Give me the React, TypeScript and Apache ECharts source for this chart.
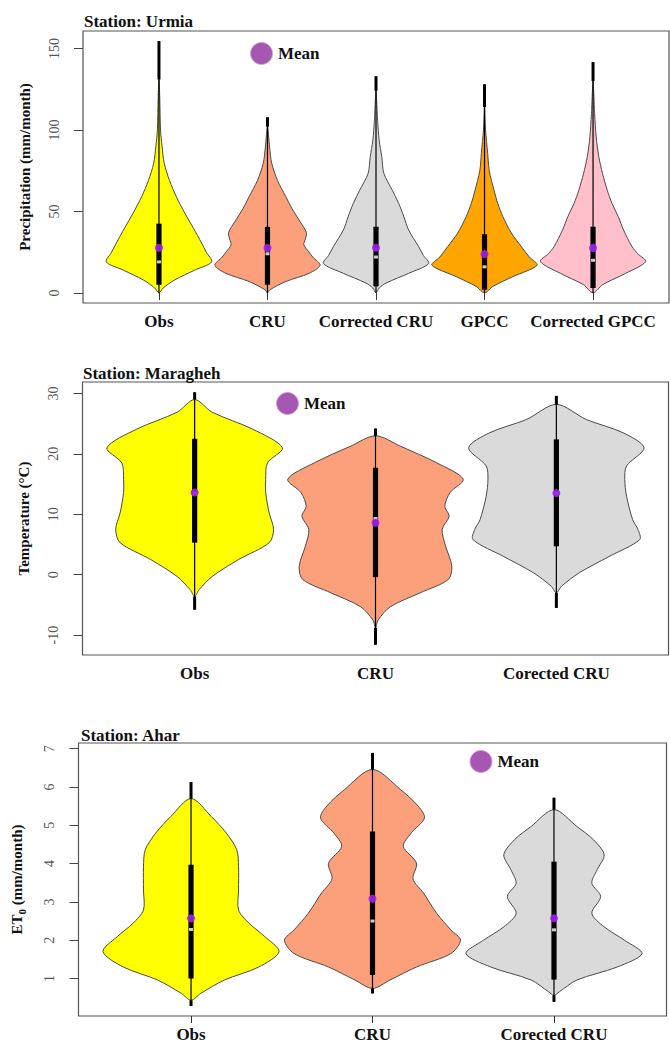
import React, { useEffect, useRef } from 'react';
import * as echarts from 'echarts';

const FONT = "'Liberation Serif', 'Times New Roman', Times, serif";

// ---------------- Panel 1: Station Urmia (precipitation) ----------------
const urmiaTitle = 'Station: Urmia';
const urmiaYName = 'Precipitation (mm/month)';
const urmiaCategories = ['Obs', 'CRU', 'Corrected CRU', 'GPCC', 'Corrected GPCC'];
const urmiaYTicks = [0, 50, 100, 150];
// density profiles: [value, relative half width]
const urmiaObsDensity = [[0, 0], [3, 0.08], [8, 0.3], [14, 0.68], [19, 1], [25, 0.9], [30.6, 0.81], [40, 0.65], [49, 0.49], [59, 0.33], [69, 0.2], [79.6, 0.1], [89.6, 0.06], [100, 0.03], [120, 0.015], [131, 0]];
const urmiaCruDensity = [[0, 0], [2, 0.05], [7, 0.35], [12, 0.79], [17, 1], [22, 0.86], [25, 0.79], [29.5, 0.69], [33, 0.72], [37, 0.74], [44.7, 0.6], [52, 0.46], [59, 0.35], [69, 0.19], [79.6, 0.08], [89.6, 0.04], [102, 0]];
const urmiaCorrCruDensity = [[0, 0], [3, 0.06], [6, 0.19], [12, 0.62], [18, 1], [23, 0.9], [28.4, 0.81], [38.6, 0.62], [46.7, 0.53], [55, 0.43], [63, 0.31], [73.3, 0.15], [83.5, 0.11], [93.7, 0.06], [106, 0.03], [124, 0]];
const urmiaGpccDensity = [[0, 0], [4, 0.16], [10, 0.54], [17, 1], [22, 0.85], [28.4, 0.7], [36.7, 0.51], [46.7, 0.35], [55, 0.25], [63, 0.18], [75, 0.09], [85.7, 0.06], [100, 0.02], [114, 0]];
const urmiaCorrGpccDensity = [[0, 0], [5, 0.18], [12, 0.62], [19.2, 1], [24, 0.85], [28.4, 0.74], [38.6, 0.58], [46.7, 0.48], [55, 0.36], [63, 0.27], [73.3, 0.18], [83.5, 0.11], [95.7, 0.06], [110, 0.03], [130, 0]];
const urmiaWhiskerLow = [0, 0, 0, 0, 0];
const urmiaWhiskerHigh = [154.5, 107.8, 132.9, 128, 141.6];
const urmiaQ1 = [5, 5, 4, 2, 3];
const urmiaQ3 = [42.5, 40.5, 40.6, 36, 40.6];
const urmiaMedian = [19, 24, 22, 16, 20];
const urmiaMean = [27.7, 27.5, 27.7, 23.8, 27.6];

// ---------------- Panel 2: Station Maragheh (temperature) ----------------
const maraTitle = 'Station: Maragheh';
const maraYName = 'Temperature (°C)';
const maraCategories = ['Obs', 'CRU', 'Corected CRU'];
const maraYTicks = [-10, 0, 10, 20, 30];
const maraObsDensity = [[-3.6, 0], [-2.5, 0.05], [-0.3, 0.2], [2.5, 0.5], [5.3, 0.85], [7.5, 0.9], [10.2, 0.85], [13.6, 0.81], [15.8, 0.81], [18.5, 0.83], [21, 1], [24.1, 0.66], [26.9, 0.2], [29, 0]];
const maraCruDensity = [[-8.8, 0], [-7.5, 0.03], [-5.3, 0.17], [-3, 0.51], [-0.8, 0.83], [1.4, 0.87], [4.7, 0.8], [7.5, 0.76], [9.7, 0.84], [11.3, 0.79], [13.6, 0.85], [15.8, 1], [18.5, 0.7], [21.3, 0.28], [23, 0]];
const maraCorrCruDensity = [[-3, 0], [-1.9, 0.06], [0.3, 0.26], [3, 0.6], [5.8, 0.95], [7.5, 0.93], [9.1, 0.87], [13, 0.8], [15.8, 0.78], [18, 0.8], [21, 1], [23.5, 0.76], [25.7, 0.34], [28.2, 0]];
const maraWhiskerLow = [-5.8, -11.6, -5.5];
const maraWhiskerHigh = [30.2, 24.2, 29.6];
const maraQ1 = [5.3, -0.4, 4.7];
const maraQ3 = [22.5, 17.7, 22.4];
const maraMedian = [13.5, 9.3, 13.5];
const maraMean = [13.6, 8.6, 13.5];

// ---------------- Panel 3: Station Ahar (ET0) ----------------
const aharTitle = 'Station: Ahar';
const aharCategories = ['Obs', 'CRU', 'Corected CRU'];
const aharYTicks = [1, 2, 3, 4, 5, 6, 7];
const aharObsDensity = [[0.43, 0], [0.61, 0.11], [0.96, 0.38], [1.3, 0.77], [1.7, 1], [2.09, 0.84], [2.44, 0.66], [2.79, 0.54], [3.31, 0.54], [3.92, 0.54], [4.36, 0.52], [4.8, 0.4], [5.23, 0.23], [5.7, 0]];
const aharCruDensity = [[0.74, 0], [0.96, 0.2], [1.3, 0.5], [1.65, 0.89], [2, 1], [2.27, 0.89], [2.7, 0.73], [3.23, 0.58], [3.6, 0.46], [4.01, 0.5], [4.45, 0.35], [4.8, 0.44], [5.19, 0.59], [5.5, 0.52], [5.93, 0.32], [6.46, 0]];
const aharCorrCruDensity = [[0.56, 0], [0.65, 0.06], [0.96, 0.26], [1.3, 0.72], [1.65, 1], [2, 0.8], [2.35, 0.57], [2.7, 0.43], [3.14, 0.53], [3.49, 0.43], [3.84, 0.49], [4.23, 0.57], [4.62, 0.45], [4.97, 0.26], [5.41, 0]];
const aharWhiskerLow = [0.28, 0.61, 0.39];
const aharWhiskerHigh = [6.13, 6.89, 5.72];
const aharQ1 = [1.0, 1.09, 0.97];
const aharQ3 = [3.97, 4.84, 4.05];
const aharMedian = [2.28, 2.5, 2.27];
const aharMean = [2.57, 3.08, 2.57];

// ---------------- styling ----------------
const HALF = 0.485;
const colors5 = ['#FFFF00', '#FCA07B', '#DADADA', '#FFA500', '#FFC0CB'];
const colors3 = ['#FFFF00', '#FCA07B', '#DADADA'];

const panels = [
  {
    title: urmiaTitle, yName: urmiaYName, cats: urmiaCategories, ticks: urmiaYTicks,
    dens: [urmiaObsDensity, urmiaCruDensity, urmiaCorrCruDensity, urmiaGpccDensity, urmiaCorrGpccDensity],
    wLo: urmiaWhiskerLow, wHi: urmiaWhiskerHigh, q1: urmiaQ1, q3: urmiaQ3, med: urmiaMedian, mean: urmiaMean,
    colors: colors5,
    grid: { left: 83, top: 31, width: 586, height: 272 }, xMin: 0.3, xMax: 5.7, yMin: -6.2, yMax: 160.7,
    titlePos: { left: 84, top: 13 }, legendPos: { left: 250, top: 42 },
  },
  {
    title: maraTitle, yName: maraYName, cats: maraCategories, ticks: maraYTicks,
    dens: [maraObsDensity, maraCruDensity, maraCorrCruDensity],
    wLo: maraWhiskerLow, wHi: maraWhiskerHigh, q1: maraQ1, q3: maraQ3, med: maraMedian, mean: maraMean,
    colors: colors3,
    grid: { left: 82.5, top: 382, width: 586, height: 273 }, xMin: 0.38, xMax: 3.62, yMin: -13.3, yMax: 31.9,
    titlePos: { left: 83, top: 365 }, legendPos: { left: 276, top: 392 },
  },
  {
    title: aharTitle, yName: '{n|ET}{s|0}{n| (mm/month)}', cats: aharCategories, ticks: aharYTicks,
    dens: [aharObsDensity, aharCruDensity, aharCorrCruDensity],
    wLo: aharWhiskerLow, wHi: aharWhiskerHigh, q1: aharQ1, q3: aharQ3, med: aharMedian, mean: aharMean,
    colors: colors3,
    grid: { left: 78.5, top: 743, width: 588, height: 273 }, xMin: 0.38, xMax: 3.62, yMin: 0.02, yMax: 7.15,
    titlePos: { left: 81, top: 727 }, legendPos: { left: 469.5, top: 750 },
  },
];

function buildOption() {
  const grid: any[] = [];
  const xAxis: any[] = [];
  const yAxis: any[] = [];
  const series: any[] = [];
  const title: any[] = [];
  const legend: any[] = [];

  panels.forEach((p, gi) => {
    grid.push({ ...p.grid, show: true, borderColor: '#555', borderWidth: 1.2, backgroundColor: 'transparent' });
    const idx = p.cats.map((_, i) => i + 1);
    xAxis.push({
      type: 'value', gridIndex: gi, min: p.xMin, max: p.xMax,
      axisLine: { show: false }, splitLine: { show: false },
      axisTick: { show: true, customValues: idx, length: 7, lineStyle: { color: '#333', width: 1 } },
      axisLabel: {
        customValues: idx, margin: 10,
        formatter: (v: number) => p.cats[Math.round(v) - 1] || '',
        fontFamily: FONT, fontWeight: 'bold', fontSize: 17, color: '#111',
      },
    });
    yAxis.push({
      type: 'value', gridIndex: gi, min: p.yMin, max: p.yMax,
      axisLine: { show: false }, splitLine: { show: false },
      axisTick: { show: true, customValues: p.ticks, length: 9, lineStyle: { color: '#444', width: 1 } },
      axisLabel: { customValues: p.ticks, rotate: 90, margin: 22, fontFamily: FONT, fontSize: 14, color: '#555' },
      name: p.yName, nameLocation: 'middle', nameGap: 51,
      nameTextStyle: {
        fontFamily: FONT, fontWeight: 'bold', fontSize: 15, color: '#111',
        rich: {
          n: { fontFamily: FONT, fontWeight: 'bold', fontSize: 15, color: '#111', lineHeight: 22, verticalAlign: 'middle' },
          s: { fontFamily: FONT, fontWeight: 'bold', fontSize: 11, color: '#111', lineHeight: 22, verticalAlign: 'bottom' },
        },
      },
    });
    title.push({
      text: p.title, left: p.titlePos.left, top: p.titlePos.top, padding: 0,
      textStyle: { fontFamily: FONT, fontWeight: 'bold', fontSize: 17, color: '#111' },
    });
    legend.push({
      data: [{ name: 'Mean', icon: 'circle', itemStyle: { color: '#9B45A9', borderColor: '#C9A0D0', borderWidth: 1 } }],
      left: p.legendPos.left, top: p.legendPos.top, padding: 0, itemWidth: 23, itemHeight: 22, itemGap: 5,
      selectedMode: false,
      textStyle: { fontFamily: FONT, fontWeight: 'bold', fontSize: 17, color: '#111', padding: [0, 0, 0, 0] },
    });

    const dens = p.dens;
    const cols = p.colors;
    series.push({
      type: 'custom', xAxisIndex: gi, yAxisIndex: gi, silent: true, z: 2,
      data: dens.map((d, i) => [i + 1, d[0][0]]),
      renderItem: (params: any, api: any) => {
        const i = params.dataIndex;
        const x = api.value(0);
        const prof = dens[i];
        const left = prof.map(([v, w]) => api.coord([x - w * HALF, v]));
        const right = prof.slice(1, -1).reverse().map(([v, w]) => api.coord([x + w * HALF, v]));
        return {
          type: 'polygon',
          shape: { points: left.concat(right), smooth: 0.3 },
          style: { fill: cols[i], stroke: '#4a4a4a', lineWidth: 1 },
        };
      },
    });
    series.push({
      type: 'custom', xAxisIndex: gi, yAxisIndex: gi, silent: true, z: 3,
      data: p.cats.map((_, i) => [i + 1, p.wLo[i], p.q1[i], p.q3[i], p.wHi[i], dens[i][0][0], dens[i][dens[i].length - 1][0]]),
      renderItem: (params: any, api: any) => {
        const x = api.value(0);
        const lo = api.coord([x, api.value(1)]);
        const q1 = api.coord([x, api.value(2)]);
        const q3 = api.coord([x, api.value(3)]);
        const hi = api.coord([x, api.value(4)]);
        const tLo = api.coord([x, api.value(5)]);
        const tHi = api.coord([x, api.value(6)]);
        return {
          type: 'group',
          children: [
            { type: 'line', shape: { x1: lo[0], y1: lo[1], x2: hi[0], y2: hi[1] }, style: { stroke: '#000', lineWidth: 1.2 } },
            { type: 'line', shape: { x1: tHi[0], y1: tHi[1], x2: hi[0], y2: hi[1] }, style: { stroke: '#000', lineWidth: 3 } },
            { type: 'line', shape: { x1: lo[0], y1: lo[1], x2: tLo[0], y2: tLo[1] }, style: { stroke: '#000', lineWidth: 3 } },
            { type: 'rect', shape: { x: q3[0] - 2.6, y: q3[1], width: 5.2, height: q1[1] - q3[1] }, style: { fill: '#000' } },
          ],
        };
      },
    });
    series.push({
      type: 'scatter', xAxisIndex: gi, yAxisIndex: gi, silent: true, z: 4,
      symbol: 'rect', symbolSize: [4, 3], itemStyle: { color: '#fff' },
      data: p.med.map((m, i) => [i + 1, m]),
    });
    series.push({
      name: 'Mean', type: 'scatter', xAxisIndex: gi, yAxisIndex: gi, silent: true, z: 5,
      symbol: 'circle', symbolSize: 8, itemStyle: { color: '#A020F0', opacity: 0.9 },
      data: p.mean.map((m, i) => [i + 1, m]),
    });
  });

  return { animation: false, backgroundColor: '#fff', grid, xAxis, yAxis, series, title, legend };
}

export default function App() {
  const ref = useRef<HTMLDivElement>(null);
  useEffect(() => {
    if (!ref.current) return;
    const chart = echarts.init(ref.current, null, { renderer: 'svg' });
    chart.setOption(buildOption() as any);
    return () => chart.dispose();
  }, []);
  return (
    <div
      ref={ref}
      style={{ position: 'fixed', left: 0, top: 0, width: 670, height: 1043, background: '#fff' }}
    />
  );
}
